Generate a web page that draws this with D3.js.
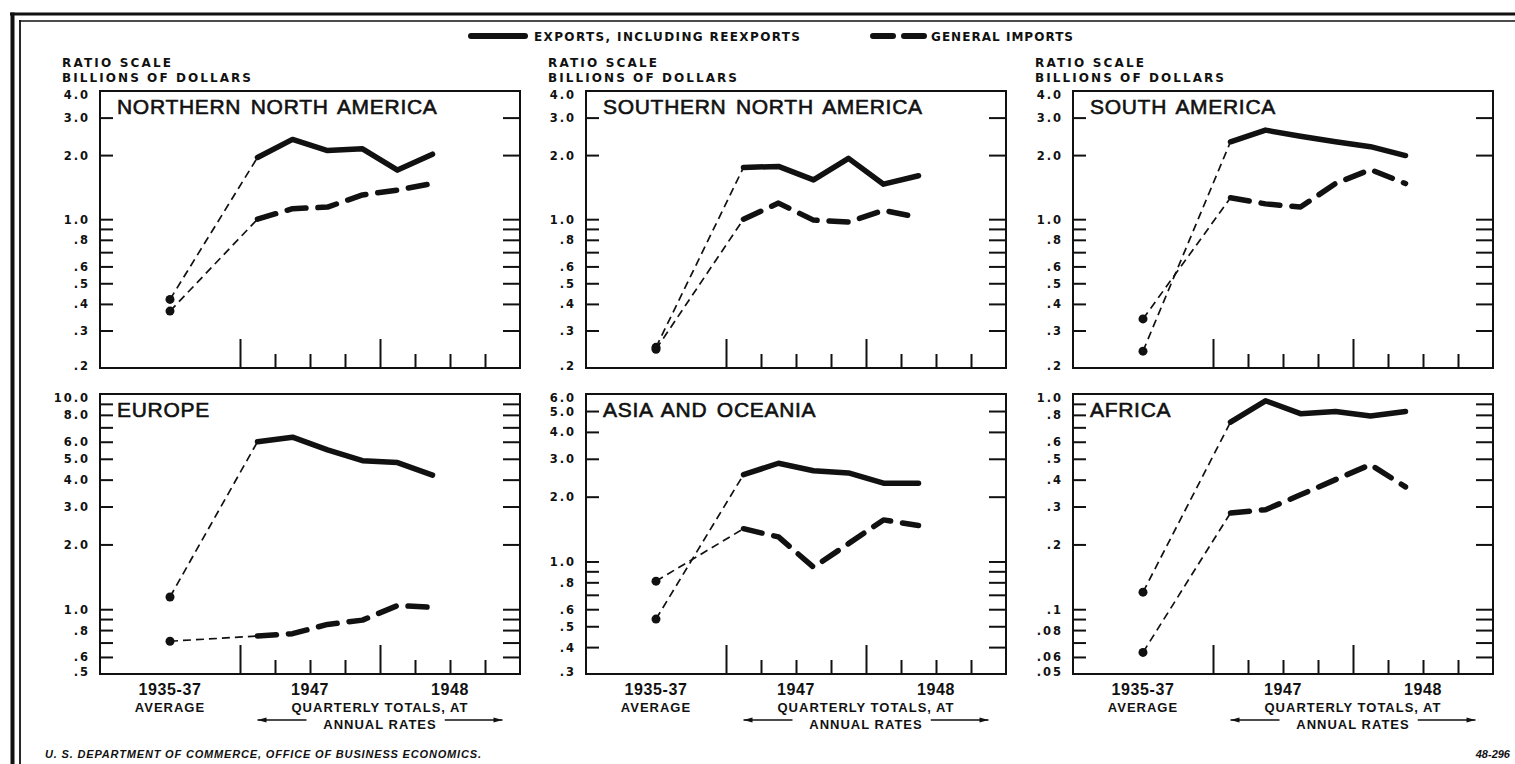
<!DOCTYPE html>
<html>
<head>
<meta charset="utf-8">
<script src="https://cdn.jsdelivr.net/npm/d3@7"></script>
<style>
  html, body { margin: 0; padding: 0; background: #fff; }
  svg { display: block; }
</style>
</head>
<body>
<svg id="chart" width="1515" height="764"></svg>
<script>
// ---- data: billions of dollars, quarterly totals at annual rates
const regions = ['NORTHERN NORTH AMERICA', 'SOUTHERN NORTH AMERICA', 'SOUTH AMERICA',
                 'EUROPE', 'ASIA AND OCEANIA', 'AFRICA'];
const quarters = ['1947-I', '1947-II', '1947-III', '1947-IV', '1948-I', '1948-II'];

// 1935-37 average, one value per region
const avgExports = [0.42, 0.25, 0.24, 1.14, 0.54, 0.12];
const avgImports = [0.37, 0.245, 0.34, 0.71, 0.81, 0.063];

const exportsNorthernNA = [1.95, 2.37, 2.10, 2.14, 1.70, 2.02];
const importsNorthernNA = [1.00, 1.12, 1.14, 1.30, 1.37, 1.47];
const exportsSouthernNA = [1.75, 1.77, 1.53, 1.93, 1.46, 1.60];
const importsSouthernNA = [1.00, 1.19, 0.99, 0.97, 1.10, 1.02];
const exportsSouthAmerica = [2.31, 2.62, 2.45, 2.31, 2.19, 1.99];
const importsSouthAmerica = [1.26, 1.18, 1.14, 1.47, 1.71, 1.47];
const exportsEurope = [6.0, 6.3, 5.5, 4.9, 4.8, 4.2];
const importsEurope = [0.75, 0.77, 0.85, 0.89, 1.04, 1.02];
const exportsAsia = [2.53, 2.86, 2.64, 2.58, 2.31, 2.31];
const importsAsia = [1.42, 1.30, 0.94, 1.21, 1.56, 1.47];
const exportsAfrica = [0.74, 0.93, 0.81, 0.83, 0.79, 0.83];
const importsAfrica = [0.28, 0.29, 0.34, 0.40, 0.47, 0.37];

// ratio scale ranges, labels and tick marks
const yDomains = [[0.2, 4], [0.2, 4], [0.2, 4], [0.5, 10], [0.3, 6], [0.05, 1]];
const yLabelsTop = [4, 3, 2, 1, 0.8, 0.6, 0.5, 0.4, 0.3, 0.2];
const yTicksTop = [3, 2, 1, 0.9, 0.8, 0.7, 0.6, 0.5, 0.4, 0.3];
const yLabelsEurope = [10, 8, 6, 5, 4, 3, 2, 1, 0.8, 0.6, 0.5];
const yTicksEurope = [9, 8, 7, 6, 5, 4, 3, 2, 1, 0.9, 0.8, 0.7, 0.6];
const yLabelsAsia = [6, 5, 4, 3, 2, 1, 0.8, 0.6, 0.5, 0.4, 0.3];
const yTicksAsia = [5, 4, 3, 2, 1, 0.9, 0.8, 0.7, 0.6, 0.5, 0.4];
const yLabelsAfrica = [1, 0.8, 0.6, 0.5, 0.4, 0.3, 0.2, 0.1, 0.08, 0.06, 0.05];
const yTicksAfrica = [0.9, 0.8, 0.7, 0.6, 0.5, 0.4, 0.3, 0.2, 0.1, 0.09, 0.08, 0.07, 0.06];

const xLabels = ['1935-37', '1947', '1948'];
const legendLabels = ['EXPORTS, INCLUDING REEXPORTS', 'GENERAL IMPORTS'];

const exportSeries = [exportsNorthernNA, exportsSouthernNA, exportsSouthAmerica, exportsEurope, exportsAsia, exportsAfrica];
const importSeries = [importsNorthernNA, importsSouthernNA, importsSouthAmerica, importsEurope, importsAsia, importsAfrica];
const yLabelSets = [yLabelsTop, yLabelsTop, yLabelsTop, yLabelsEurope, yLabelsAsia, yLabelsAfrica];
const yTickSets = [yTicksTop, yTicksTop, yTicksTop, yTicksEurope, yTicksAsia, yTicksAfrica];

// ---- layout
const svg = d3.select('#chart');
const INK = '#111';
const BOLD = '"DejaVu Sans", sans-serif';
const ARIAL = '"Liberation Sans", Arial, sans-serif';
const colX = [100, 586, 1073];
const rowY = [91, 394];
const rowH = [277, 280];
const W = 420;

const fmt = v => v >= 1 ? v.toFixed(1) : String(v).replace(/^0/, '');

// ---- frame
svg.append('line').attr('x1', 10).attr('x2', 1515).attr('y1', 14).attr('y2', 14)
    .attr('stroke', INK).attr('stroke-width', 3);
svg.append('line').attr('x1', 19).attr('x2', 1515).attr('y1', 21).attr('y2', 21)
    .attr('stroke', INK).attr('stroke-width', 1.6);
svg.append('line').attr('x1', 12.5).attr('x2', 12.5).attr('y1', 12.5).attr('y2', 764)
    .attr('stroke', INK).attr('stroke-width', 4);
svg.append('line').attr('x1', 20).attr('x2', 20).attr('y1', 20).attr('y2', 764)
    .attr('stroke', INK).attr('stroke-width', 1.8);

// ---- legend
const leg = svg.append('g').attr('transform', 'translate(0,36)');
leg.append('line').attr('x1', 471).attr('x2', 525).attr('y1', 0).attr('y2', 0)
    .attr('stroke', INK).attr('stroke-width', 6).attr('stroke-linecap', 'round');
leg.append('line').attr('x1', 873).attr('x2', 924).attr('y1', 0).attr('y2', 0)
    .attr('stroke', INK).attr('stroke-width', 6).attr('stroke-linecap', 'round')
    .attr('stroke-dasharray', '20,11');
leg.selectAll('text.leg').data(legendLabels).join('text')
    .attr('class', 'leg')
    .attr('x', (d, i) => i === 0 ? 534 : 931)
    .attr('y', 4.5)
    .attr('textLength', (d, i) => i === 0 ? 266 : 142)
    .attr('lengthAdjust', 'spacing')
    .style('font-family', BOLD).style('font-weight', 'bold').style('font-size', '12px')
    .attr('fill', INK)
    .text(d => d);

// ---- panels
regions.forEach((name, i) => {
    const c = i % 3, r = Math.floor(i / 3);
    const h = rowH[r];
    const g = svg.append('g').attr('transform', `translate(${colX[c]},${rowY[r]})`);

    const x = d3.scaleLinear().domain([-4, 8]).range([0, W]);
    const y = d3.scaleLog().domain(yDomains[i]).range([h, 0]);
    const qx = (d, k) => x(k + 0.5);

    // y ticks inside the box, both sides
    g.append('g').call(d3.axisLeft(y).tickValues(yTickSets[i]).tickSize(-13).tickFormat(''))
        .call(a => a.select('.domain').remove())
        .selectAll('line').attr('stroke', INK).attr('stroke-width', 2);
    g.append('g').attr('transform', `translate(${W},0)`)
        .call(d3.axisRight(y).tickValues(yTickSets[i]).tickSize(-17).tickFormat(''))
        .call(a => a.select('.domain').remove())
        .selectAll('line').attr('stroke', INK).attr('stroke-width', 2);

    // y labels
    const lab = yLabelSets[i];
    const yl = g.append('g').call(d3.axisLeft(y).tickValues(lab).tickSize(0).tickPadding(10).tickFormat(fmt));
    yl.select('.domain').remove();
    yl.selectAll('text')
        .style('font-family', BOLD).style('font-weight', 'bold').style('font-size', '11.5px')
        .style('letter-spacing', '2px')
        .attr('fill', INK)
        .attr('dy', d => d === lab[0] ? '0.62em' : d === lab[lab.length - 1] ? '0.1em' : '0.35em');

    // x ticks: tall at year starts, short at quarters
    g.append('g').attr('transform', `translate(0,${h})`)
        .call(d3.axisBottom(x).tickValues([0, 4]).tickSize(-29).tickFormat(''))
        .call(a => a.select('.domain').remove())
        .selectAll('line').attr('stroke', INK).attr('stroke-width', 2);
    g.append('g').attr('transform', `translate(0,${h})`)
        .call(d3.axisBottom(x).tickValues([1, 2, 3, 5, 6, 7]).tickSize(-14).tickFormat(''))
        .call(a => a.select('.domain').remove())
        .selectAll('line').attr('stroke', INK).attr('stroke-width', 2);

    // box
    g.append('rect').attr('width', W).attr('height', h)
        .attr('fill', 'none').attr('stroke', INK).attr('stroke-width', 2);

    // panel title
    g.append('text').attr('x', 17).attr('y', 23)
        .style('font-family', ARIAL).style('font-size', '21px')
        .style('letter-spacing', '0.7px').style('word-spacing', '3px')
        .attr('fill', INK).attr('stroke', INK).attr('stroke-width', 0.6)
        .text(name);

    // y axis caption (top row only)
    if (r === 0) {
        g.selectAll('text.cap').data(['RATIO SCALE', 'BILLIONS OF DOLLARS']).join('text')
            .attr('class', 'cap')
            .attr('x', -38).attr('y', (d, k) => -24 + k * 15)
            .attr('textLength', (d, k) => k === 0 ? 109 : 189).attr('lengthAdjust', 'spacing')
            .style('font-family', BOLD).style('font-weight', 'bold').style('font-size', '12px')
            .attr('fill', INK).text(d => d);
    }

    // connectors from the 1935-37 average to first quarter
    const avg = [[avgExports[i], exportSeries[i][0]], [avgImports[i], importSeries[i][0]]];
    g.selectAll('line.conn').data(avg).join('line')
        .attr('class', 'conn')
        .attr('x1', x(-2)).attr('y1', d => y(d[0]))
        .attr('x2', x(0.5)).attr('y2', d => y(d[1]))
        .attr('stroke', INK).attr('stroke-width', 1.7).attr('stroke-dasharray', '8,5');
    g.selectAll('circle').data(avg).join('circle')
        .attr('cx', x(-2)).attr('cy', d => y(d[0])).attr('r', 4.5).attr('fill', INK);

    // series
    const line = d3.line().x(qx).y(d => y(d));
    g.append('path').datum(exportSeries[i]).attr('d', line)
        .attr('fill', 'none').attr('stroke', INK).attr('stroke-width', 5.5)
        .attr('stroke-linecap', 'round').attr('stroke-linejoin', 'round');
    g.append('path').datum(importSeries[i]).attr('d', line)
        .attr('fill', 'none').attr('stroke', INK).attr('stroke-width', 5.5)
        .attr('stroke-linecap', 'round').attr('stroke-linejoin', 'round')
        .attr('stroke-dasharray', '19,12');

    // x labels (bottom row only)
    if (r === 1) {
        const xl = g.append('g').attr('transform', `translate(0,${h})`);
        xl.selectAll('text.yr').data(xLabels).join('text')
            .attr('class', 'yr')
            .attr('x', (d, k) => x([-2, 2, 6][k])).attr('y', 21)
            .attr('text-anchor', 'middle')
            .style('font-family', ARIAL).style('font-weight', 'bold').style('font-size', '16px')
            .style('letter-spacing', '0.6px')
            .attr('fill', INK).text(d => d);
        const small = [['AVERAGE', -2, 38], ['QUARTERLY TOTALS, AT', 4, 38], ['ANNUAL RATES', 4, 55]];
        xl.selectAll('text.sm').data(small).join('text')
            .attr('class', 'sm')
            .attr('x', d => x(d[1])).attr('y', d => d[2])
            .attr('text-anchor', 'middle')
            .style('font-family', ARIAL).style('font-weight', 'bold').style('font-size', '13px')
            .style('letter-spacing', '1px')
            .attr('fill', INK).text(d => d[0]);
        // arrows
        const arrows = [[x(1.9), x(0.5)], [x(5.85), x(7.5)]];
        xl.selectAll('line.arr').data(arrows).join('line')
            .attr('class', 'arr')
            .attr('x1', d => d[0]).attr('x2', d => d[1]).attr('y1', 46).attr('y2', 46)
            .attr('stroke', INK).attr('stroke-width', 1.4);
        xl.selectAll('path.head').data(arrows).join('path')
            .attr('class', 'head')
            .attr('d', d => {
                const s = d[1] > d[0] ? -1 : 1;
                return `M${d[1]},46 L${d[1] + s * 9},43.5 L${d[1] + s * 9},48.5 Z`;
            })
            .attr('fill', INK);
    }
});

// ---- footer
svg.append('text').attr('x', 45).attr('y', 758)
    .attr('textLength', 436).attr('lengthAdjust', 'spacing')
    .style('font-family', ARIAL).style('font-weight', 'bold').style('font-style', 'italic')
    .style('font-size', '11px').attr('fill', INK)
    .text('U. S. DEPARTMENT OF COMMERCE, OFFICE OF BUSINESS ECONOMICS.');
svg.append('text').attr('x', 1510).attr('y', 758).attr('text-anchor', 'end')
    .style('font-family', ARIAL).style('font-weight', 'bold').style('font-style', 'italic')
    .style('font-size', '11px').attr('fill', INK)
    .text('48-296');
</script>
</body>
</html>
